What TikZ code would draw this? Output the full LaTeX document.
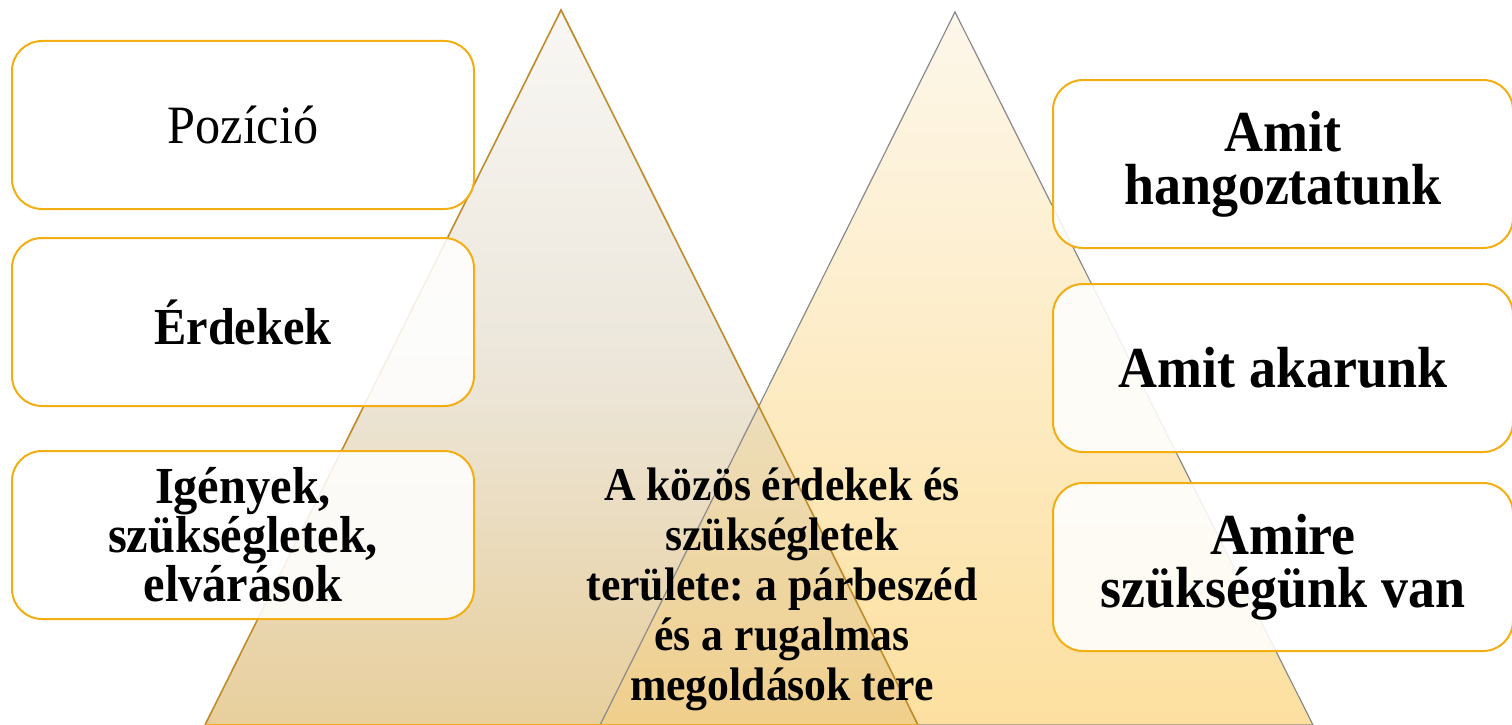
\documentclass[tikz,border=0pt]{standalone}
\usepackage{fontspec}
\setmainfont{Liberation Serif}[FakeStretch=0.93]
\definecolor{boxline}{HTML}{F2AE12}
\definecolor{ltop}{HTML}{F8F7F4}
\definecolor{lmid}{HTML}{ECE6DA}
\definecolor{lbot}{HTML}{E8CF9C}
\definecolor{rtop}{HTML}{FDF7EA}
\definecolor{rbot}{HTML}{FDE0A0}
\definecolor{otop}{HTML}{ECDDBA}
\definecolor{obot}{HTML}{F0CF8C}
\definecolor{ledge}{HTML}{C08A2A}
\definecolor{lbase}{HTML}{F0A830}
\definecolor{redge}{HTML}{8A8A8A}
\frenchspacing
\begin{document}
\begin{tikzpicture}[x=1pt,y=-1pt,
  box/.style={draw=boxline, line width=2pt, rounded corners=30pt, fill=white,
    fill opacity=0.88, text opacity=1, minimum width=462pt, minimum height=168pt,
    align=center, inner sep=0pt},
  ltext/.style={font=\fontsize{52}{49}\selectfont\bfseries},
  rtext/.style={font=\fontsize{58}{53}\selectfont\bfseries},
  ptext/.style={font=\fontsize{54}{50}\selectfont},
  ctext/.style={align=center, inner sep=0pt, font=\fontsize{47}{50}\selectfont\bfseries}]
\useasboundingbox (0,0) rectangle (1512,725);
% triangles
\coordinate (LA) at (561,10);
\coordinate (LB) at (205,725);
\coordinate (LC) at (918,725);
\coordinate (RA) at (955,12);
\coordinate (RB) at (600,725);
\coordinate (RC) at (1313,725);
\coordinate (X) at (759,406);
\shade[top color=ltop, bottom color=lbot, middle color=lmid] (LA) -- (LB) -- (LC) -- cycle;
\shade[top color=rtop, bottom color=rbot] (RA) -- (RB) -- (RC) -- cycle;
\shade[top color=otop, bottom color=obot] (X) -- (RB) -- (LC) -- cycle;
\draw[redge, line width=1.2pt] (RB) -- (RA) -- (RC) -- cycle;
\draw[ledge, line width=1.6pt, line join=miter] (LB) -- (LA) -- (LC);
\draw[lbase, line width=2pt] (LB) -- (LC);
% left boxes
\node[box, ptext] (poz) at (243,125) {Pozíció};
\node[box, ltext] (erd) at (243,322) {Érdekek};
\node[box, ltext] (ige) at (243,535) {Igények,\\szükségletek,\\elvárások};
% right boxes
\node[box, rtext, minimum width=460pt] (hang) at (1283,164) {Amit\\hangoztatunk};
\node[box, rtext, minimum width=460pt] (akar) at (1283,368) {Amit akarunk};
\node[box, rtext, minimum width=460pt] (szuk) at (1283,567) {Amire\\szükségünk van};
% centre text
\node[ctext] (kozos) at (782,589) {A közös érdekek és\\szükségletek\\területe: a párbeszéd\\és a rugalmas\\megoldások tere};
\end{tikzpicture}
\end{document}
